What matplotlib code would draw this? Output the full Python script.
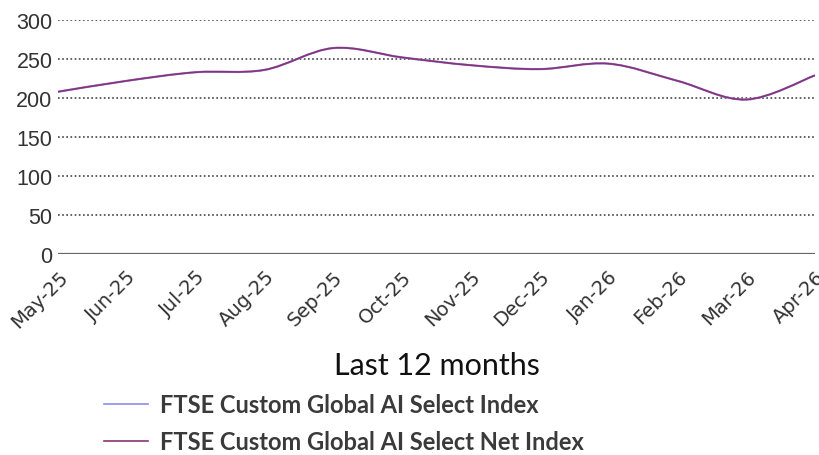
import numpy as np
import matplotlib.pyplot as plt
from matplotlib.path import Path
from matplotlib.patches import PathPatch
from matplotlib.lines import Line2D

months = ['May-25', 'Jun-25', 'Jul-25', 'Aug-25', 'Sep-25', 'Oct-25',
          'Nov-25', 'Dec-25', 'Jan-26', 'Feb-26', 'Mar-26', 'Apr-26']
index_vals = [208, 222, 233, 236, 264, 252, 242, 237, 244, 222, 198, 229]
net_index_vals = [208, 222, 233, 236, 264, 252, 242, 237, 244, 222, 198, 229]
yticks = [0, 50, 100, 150, 200, 250, 300]

series_names = ['FTSE Custom Global AI Select Index',
                'FTSE Custom Global AI Select Net Index']
series_colors = ['#8c8cf0', '#8b3275']


def smooth_path(xs, ys, k=1/6):
    # Catmull-Rom style bezier through the points
    xs = np.asarray(xs, float)
    ys = np.asarray(ys, float)
    verts = [(xs[0], ys[0])]
    codes = [Path.MOVETO]
    n = len(xs)
    for i in range(n - 1):
        x0, y0 = (xs[i - 1], ys[i - 1]) if i > 0 else (xs[i], ys[i])
        x3, y3 = (xs[i + 2], ys[i + 2]) if i + 2 < n else (xs[i + 1], ys[i + 1])
        c1 = (xs[i] + (xs[i + 1] - x0) * k, ys[i] + (ys[i + 1] - y0) * k)
        c2 = (xs[i + 1] - (x3 - xs[i]) * k, ys[i + 1] - (y3 - ys[i]) * k)
        verts += [c1, c2, (xs[i + 1], ys[i + 1])]
        codes += [Path.CURVE4] * 3
    return Path(verts, codes)


fig = plt.figure(figsize=(8.2, 4.56), dpi=100)
ax = fig.add_axes([0.0707, 0.4408, 0.9232, 0.5132])

x = np.arange(len(months))
for vals, col, lw in [(index_vals, series_colors[0], 1.6), (net_index_vals, series_colors[1], 1.2)]:
    ax.add_patch(PathPatch(smooth_path(x, vals), facecolor='none', edgecolor=col, lw=lw, zorder=3))

for yt in yticks[1:]:
    ax.axhline(yt, color='#444444', lw=1.2, ls=(0, (1, 1.5)), zorder=1)
ax.axhline(0, color='#666666', lw=1.6, zorder=1)

ax.set_xlim(0, len(months) - 1)
ax.set_ylim(0, 300)
ax.set_yticks(yticks)
ax.set_yticklabels([str(v) for v in yticks], fontsize=15.5, color='#333333', family='Liberation Sans')
ax.set_xticks(x)
ax.set_xticklabels(months, fontsize=14, color='#333333', family='DejaVu Sans',
                   rotation=45, ha='right', rotation_mode='anchor')
ax.tick_params(axis='both', length=0)
ax.tick_params(axis='y', pad=4)
ax.tick_params(axis='x', pad=9)
for s in ax.spines.values():
    s.set_visible(False)

fig.text(0.533, 0.198, 'Last 12 months', fontsize=22, family='Lato', color='#111111',
         ha='center', va='center')

handles = [Line2D([], [], color=c, lw=1.2) for c in series_colors]
leg = fig.legend(handles, series_names, loc='center left', bbox_to_anchor=(0.127, 0.07),
                 frameon=False, handlelength=1.85, handletextpad=0.5, labelspacing=0.6,
                 borderpad=0, borderaxespad=0,
                 prop={'family': 'Lato', 'weight': 'bold', 'size': 17})
for t in leg.get_texts():
    t.set_color('#3a3a3a')

fig.savefig('out.png', dpi=100)
